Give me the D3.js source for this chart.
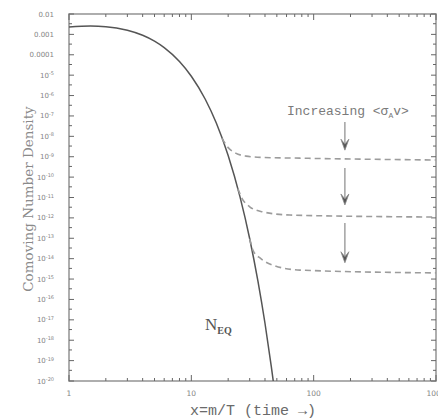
<!DOCTYPE html>
<html>
<head>
<meta charset="utf-8">
<script src="https://cdn.jsdelivr.net/npm/d3@7"></script>
<style>
  body { margin: 0; background: #fff; }
  svg { display: block; }
</style>
</head>
<body>
<div id="chart"></div>
<script>
// 平衡曲线 N_EQ
const eqX = [1, 1.5, 2, 3, 4, 5, 6, 8, 10, 13, 16, 20, 25, 30, 35, 40, 45, 48];
const eqN = [2.3e-3, 2.55e-3, 2.4e-3, 1.6e-3, 9.1e-4, 4.7e-4, 2.26e-4, 4.7e-5, 8.9e-6, 6.6e-7,
             4.5e-8, 1.15e-9, 1.07e-11, 9.5e-14, 8.1e-16, 6.8e-18, 5.4e-20, 3e-21];

// 三条冻结曲线（虚线）
const fo1X = [17.8, 20, 23, 28, 37, 77, 1000];
const fo1N = [7.9e-9, 2.8e-9, 1.5e-9, 1.07e-9, 9.3e-10, 8.5e-10, 6.9e-10];
const fo2X = [24, 26, 30, 38, 64, 1000];
const fo2N = [2.75e-11, 8.9e-12, 3.5e-12, 2.0e-12, 1.38e-12, 1.1e-12];
const fo3X = [30, 32, 37, 48, 77, 1000];
const fo3N = [9.5e-14, 2.5e-14, 1.0e-14, 4.5e-15, 2.75e-15, 2.0e-15];

// 箭头（x 位置，起止值）
const arrowX = 180;
const arrowTop = [5e-8, 2.8e-10, 5.6e-13];
const arrowBottom = [2.1e-9, 4.3e-12, 6.3e-15];

// 刻度
const xTicks = [1, 10, 100, 1000];
const xTickLabels = ['1', '10', '100', '1000'];
const yExps = [-2, -3, -4, -5, -6, -7, -8, -9, -10, -11, -12, -13, -14, -15, -16, -17, -18, -19, -20];
const yTickLabels = ['0.01', '0.001', '0.0001'];

const W = 438, H = 418;
const L = 69, R = 436, T = 14, B = 381;

const svg = d3.select('#chart').append('svg')
  .attr('width', W).attr('height', H);

const x = d3.scaleLog().domain([1, 1000]).range([L, R]);
const y = d3.scaleLog().domain([1e-20, 1e-2]).range([B, T]);

svg.append('clipPath').attr('id', 'clip')
  .append('rect').attr('x', L).attr('y', T).attr('width', R - L).attr('height', B - T);

const axisCol = '#666', textCol = '#858585';

// 外框
svg.append('rect')
  .attr('x', L).attr('y', T).attr('width', R - L).attr('height', B - T)
  .attr('fill', 'none').attr('stroke', '#9a9a9a').attr('stroke-width', 1.6);

// x 次刻度
const xMinor = [];
for (let d = 1; d < 1000; d *= 10) for (let k = 2; k <= 9; k++) xMinor.push(d * k);

function tickMarks(vals, len) {
  vals.forEach(v => {
    const px = x(v);
    svg.append('line').attr('x1', px).attr('x2', px).attr('y1', B).attr('y2', B - len)
      .attr('stroke', axisCol).attr('stroke-width', 1);
    svg.append('line').attr('x1', px).attr('x2', px).attr('y1', T).attr('y2', T + len)
      .attr('stroke', axisCol).attr('stroke-width', 1);
  });
}
tickMarks(xMinor, 3);
tickMarks(xTicks, 6);

// 底部刻度文字
svg.selectAll('.xl').data(xTicks).enter().append('text')
  .attr('x', d => x(d)).attr('y', B + 15)
  .attr('text-anchor', 'middle')
  .style('font-family', 'DejaVu Sans, sans-serif').style('font-size', '7.5px')
  .attr('fill', textCol)
  .text((d, i) => xTickLabels[i]);

// y 刻度
yExps.forEach(e => {
  const py = y(Math.pow(10, e));
  svg.append('line').attr('x1', L).attr('x2', L + 5).attr('y1', py).attr('y2', py)
    .attr('stroke', axisCol);
  svg.append('line').attr('x1', R).attr('x2', R - 5).attr('y1', py).attr('y2', py)
    .attr('stroke', axisCol);
  if (e > -20) {
    const pm = y(Math.pow(10, e) / 3);
    svg.append('line').attr('x1', L).attr('x2', L + 3).attr('y1', pm).attr('y2', pm)
      .attr('stroke', axisCol);
    svg.append('line').attr('x1', R).attr('x2', R - 3).attr('y1', pm).attr('y2', pm)
      .attr('stroke', axisCol);
  }
  const t = svg.append('text')
    .attr('x', 54).attr('y', py + 2.5)
    .attr('text-anchor', 'end')
    .style('font-family', 'DejaVu Sans, sans-serif').style('font-size', '7px')
    .attr('fill', textCol);
  const idx = -2 - e;
  if (idx < yTickLabels.length) t.text(yTickLabels[idx]);
  else {
    t.append('tspan').text('10');
    t.append('tspan').attr('dy', -2.5).style('font-size', '5px').text(e);
  }
});

// 曲线
const line = d3.line().x(d => x(d[0])).y(d => y(d[1])).curve(d3.curveMonotoneX);
const plot = svg.append('g').attr('clip-path', 'url(#clip)');

plot.append('path')
  .attr('d', line(eqX.map((v, i) => [v, eqN[i]])))
  .attr('fill', 'none').attr('stroke', '#555').attr('stroke-width', 1.5);

[[fo1X, fo1N], [fo2X, fo2N], [fo3X, fo3N]].forEach(([xs, ns]) => {
  plot.append('path')
    .attr('d', line(xs.map((v, i) => [v, ns[i]])))
    .attr('fill', 'none').attr('stroke', '#9c9c9c').attr('stroke-width', 1.6)
    .attr('stroke-dasharray', '6 4');
});

// 箭头
arrowTop.forEach((a, i) => {
  const px = x(arrowX), y1 = y(a), y2 = y(arrowBottom[i]);
  svg.append('line').attr('x1', px).attr('x2', px).attr('y1', y1).attr('y2', y2 - 2)
    .attr('stroke', '#8a8a8a').attr('stroke-width', 1.2);
  svg.append('path')
    .attr('d', `M${px - 4},${y2 - 11} L${px},${y2} L${px + 4},${y2 - 11} L${px},${y2 - 6} Z`)
    .attr('fill', '#555').attr('stroke', '#8a8a8a').attr('stroke-width', 0.8);
});

// 注释文字
const ann = svg.append('text')
  .attr('x', 287).attr('y', 115)
  .style('font-family', 'Liberation Mono, monospace').style('font-size', '13px')
  .attr('fill', '#7a7a7a');
ann.append('tspan').text('Increasing <σ');
ann.append('tspan').attr('dy', 3).style('font-size', '8px').text('A');
ann.append('tspan').attr('dy', -3).text('v>');

const neq = svg.append('text')
  .attr('x', 205).attr('y', 330)
  .style('font-family', 'Liberation Serif, serif').style('font-size', '17px')
  .attr('fill', '#555');
neq.append('tspan').text('N');
neq.append('tspan').attr('dy', 4).style('font-size', '10px').style('font-weight', 'bold').text('EQ');

// 轴标题
svg.append('text')
  .attr('x', 253).attr('y', 415)
  .attr('text-anchor', 'middle')
  .style('font-family', 'Liberation Mono, monospace').style('font-size', '15px')
  .attr('fill', '#6a6a6a')
  .text('x=m/T (time →)');

svg.append('text')
  .attr('transform', 'translate(33,199) rotate(-90)')
  .attr('text-anchor', 'middle')
  .style('font-family', 'DejaVu Serif, serif').style('font-size', '13.5px')
  .attr('fill', '#8a8a8a')
  .text('Comoving Number Density');
</script>
</body>
</html>
